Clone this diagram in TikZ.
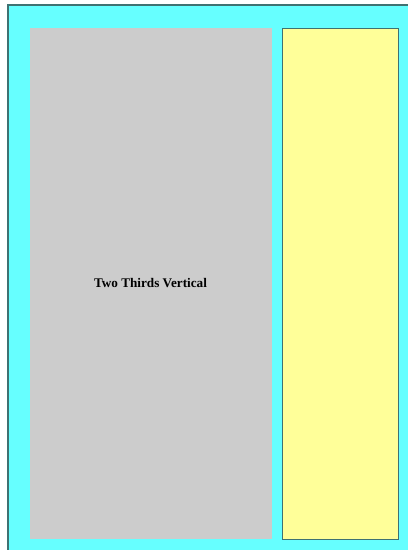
\documentclass[tikz,border=0pt]{standalone}
\usepackage{fontspec}
\setmainfont{Liberation Serif}
\definecolor{pagecyan}{HTML}{66FFFF}
\definecolor{maingray}{HTML}{CCCCCC}
\definecolor{sideyellow}{HTML}{FFFF99}
\definecolor{edgeteal}{HTML}{3F7272}

\begin{document}
\begin{tikzpicture}[x=1pt, y=-1pt]
      \useasboundingbox (0,0) rectangle (408,550);
      \coordinate (o1) at (8,5);
      \coordinate (o2) at (408,550);
      \coordinate (g1) at (30,28);
      \coordinate (g2) at (272,539);
      \coordinate (y1) at (282,28);
      \coordinate (y2) at (398,539);
      \fill[pagecyan] (o1) rectangle (o2);
      \draw[edgeteal, line width=1.2pt] (o1 |- o2) -- (o1) -- (o2 |- o1);
      \fill[maingray] (g1) rectangle (g2);
      \draw[edgeteal, fill=sideyellow, line width=0.8pt] (y1) rectangle (y2);
      \node[font=\bfseries\fontsize{13.2}{15}\selectfont] (label) at (150.5,283) {Two Thirds Vertical};
    \end{tikzpicture}
\end{document}
